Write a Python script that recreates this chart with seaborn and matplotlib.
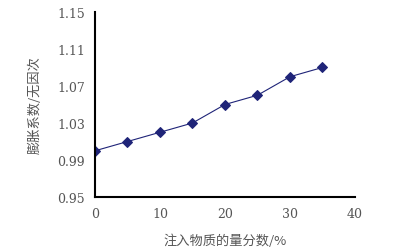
import seaborn as sns
import pandas as pd
import matplotlib.pyplot as plt

# data
x_vals = [0, 5, 10, 15, 20, 25, 30, 35]
y_vals = [1.00, 1.01, 1.02, 1.03, 1.05, 1.06, 1.08, 1.09]
x_ticks = [0, 10, 20, 30, 40]
y_ticks = [0.95, 0.99, 1.03, 1.07, 1.11, 1.15]

sns.set_style('white')
plt.rcParams['font.family'] = ['Noto Sans CJK SC', 'DejaVu Sans']

df = pd.DataFrame({'x': x_vals, 'y': y_vals})

fig = plt.figure(figsize=(3.94, 2.53), dpi=100)
ax = fig.add_axes([0.241, 0.217, 0.66, 0.732])
sns.lineplot(data=df, x='x', y='y', ax=ax, color='#1f2478', linewidth=0.8,
             marker='D', markersize=5, markeredgecolor='#1f2478')

ax.set_xlim(0, 40)
ax.set_ylim(0.95, 1.15)
ax.set_xticks(x_ticks)
ax.set_yticks(y_ticks)
ax.set_xticklabels([str(t) for t in x_ticks], family='DejaVu Serif', fontsize=9, color='#555555')
ax.set_yticklabels(['%.2f' % t for t in y_ticks], family='DejaVu Serif', fontsize=9, color='#555555')
ax.tick_params(direction='in', length=4, width=1, color='black', pad=7)
for s in ['top', 'right']:
    ax.spines[s].set_visible(False)
for s in ['left', 'bottom']:
    ax.spines[s].set_color('black')
    ax.spines[s].set_linewidth(1.5)

ax.set_xlabel('注入物质的量分数/%', fontsize=9.5, color='#555555', labelpad=10)
ax.set_ylabel('膨胀系数/无因次', fontsize=9.5, color='#555555', labelpad=11)

plt.savefig('out.png', dpi=100)
plt.close()
